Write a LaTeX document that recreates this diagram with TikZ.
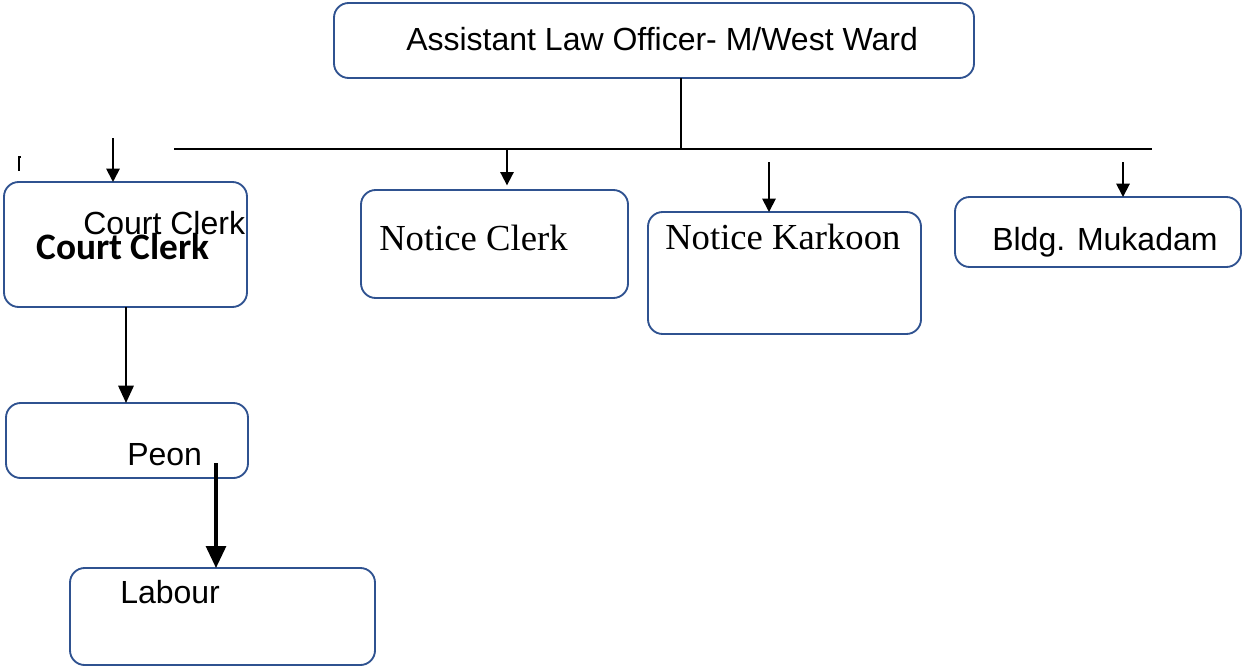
\documentclass[tikz,border=0pt]{standalone}
\usepackage{fontspec}
\setmainfont{Liberation Sans}
\newfontfamily\serifface{Liberation Serif}
\newfontfamily\carlface{Carlito}
\usetikzlibrary{arrows.meta}
\definecolor{boxblue}{HTML}{2F5290}
\tikzset{
  box/.style={draw=boxblue, line width=1.4pt, rounded corners=11pt, rectangle,
    inner sep=0pt, outer sep=0pt, anchor=north west},
  lbl/.style={anchor=base west, inner sep=0pt, font=\fontsize{24pt}{28pt}\selectfont},
  slbl/.style={anchor=base west, inner sep=0pt, font=\serifface\fontsize{27.5pt}{32pt}\selectfont},
  blbl/.style={anchor=base west, inner sep=0pt, font=\carlface\bfseries\fontsize{28pt}{32pt}\selectfont},
  conn/.style={line width=1.4pt, black},
  arrS/.style={conn, -{Triangle[width=10pt,length=10pt]}},
  arrM/.style={conn, line width=1.6pt, -{Triangle[width=11.5pt,length=13pt]}},
  arrL/.style={conn, line width=2.3pt, -{Triangle[width=15pt,length=16.5pt]}}
}
\begin{document}
\begin{tikzpicture}[x=0.75pt,y=-0.75pt]
\useasboundingbox (0,0) rectangle (1245,667);
% boxes
\node[box, minimum width=480pt, minimum height=56.25pt] (top) at (334,3) {};
\node[box, minimum width=182.25pt, minimum height=93.75pt] (cc) at (4,182) {};
\node[box, minimum width=200.25pt, minimum height=81pt] (nc) at (361,190) {};
\node[box, minimum width=204.75pt, minimum height=91.5pt] (nk) at (648,212) {};
\node[box, minimum width=214.5pt, minimum height=52.5pt] (bm) at (955,197) {};
\node[box, minimum width=181.5pt, minimum height=56.25pt] (peon) at (6,403) {};
\node[box, minimum width=228.75pt, minimum height=72.75pt] (lab) at (70,568) {};
% texts
\node[lbl] (ttop) at (406,51) {Assistant Law Officer- M/West Ward};
\node[lbl] (tcc) at (83,234) {Court Clerk};
\node[blbl] (tccb) at (36,259) {Court Clerk};
\node[slbl] (tnc) at (379,250) {Notice Clerk};
\node[slbl] (tnk) at (665,249) {Notice Karkoon};
\node[lbl] (tbm) at (992,250) {Bldg. Mukadam};
\node[lbl] (tpeon) at (127,465) {Peon};
\node[lbl] (tlab) at (120,603) {Labour};
% connectors
\coordinate (j) at (681,149);
\coordinate (hl) at (174,149);
\coordinate (hr) at (1152,149);
\draw[conn] (top.south -| j) -- (j);
\draw[conn] (hl) -- (hr);
\coordinate (a1) at (113,138);
\draw[arrS] (a1) -- (a1 |- cc.north);
\coordinate (a2) at (507,149);
\draw[arrS, shorten >=3.5pt] (a2) -- (a2 |- nc.north);
\coordinate (a3) at (769,162);
\draw[arrS] (a3) -- (a3 |- nk.north);
\coordinate (a4) at (1123,162);
\draw[arrS] (a4) -- (a4 |- bm.north);
\coordinate (a5) at (126,307);
\draw[arrM] (a5) -- (a5 |- peon.north);
\coordinate (a6) at (216,463);
\draw[arrL] (a6) -- (a6 |- lab.north);
% small stray mark
\coordinate (m1) at (21,157);
\coordinate (m2) at (19,157);
\coordinate (m3) at (19,171);
\draw[line width=0.9pt] (m1) -- (m2) -- (m3);
\end{tikzpicture}
\end{document}
